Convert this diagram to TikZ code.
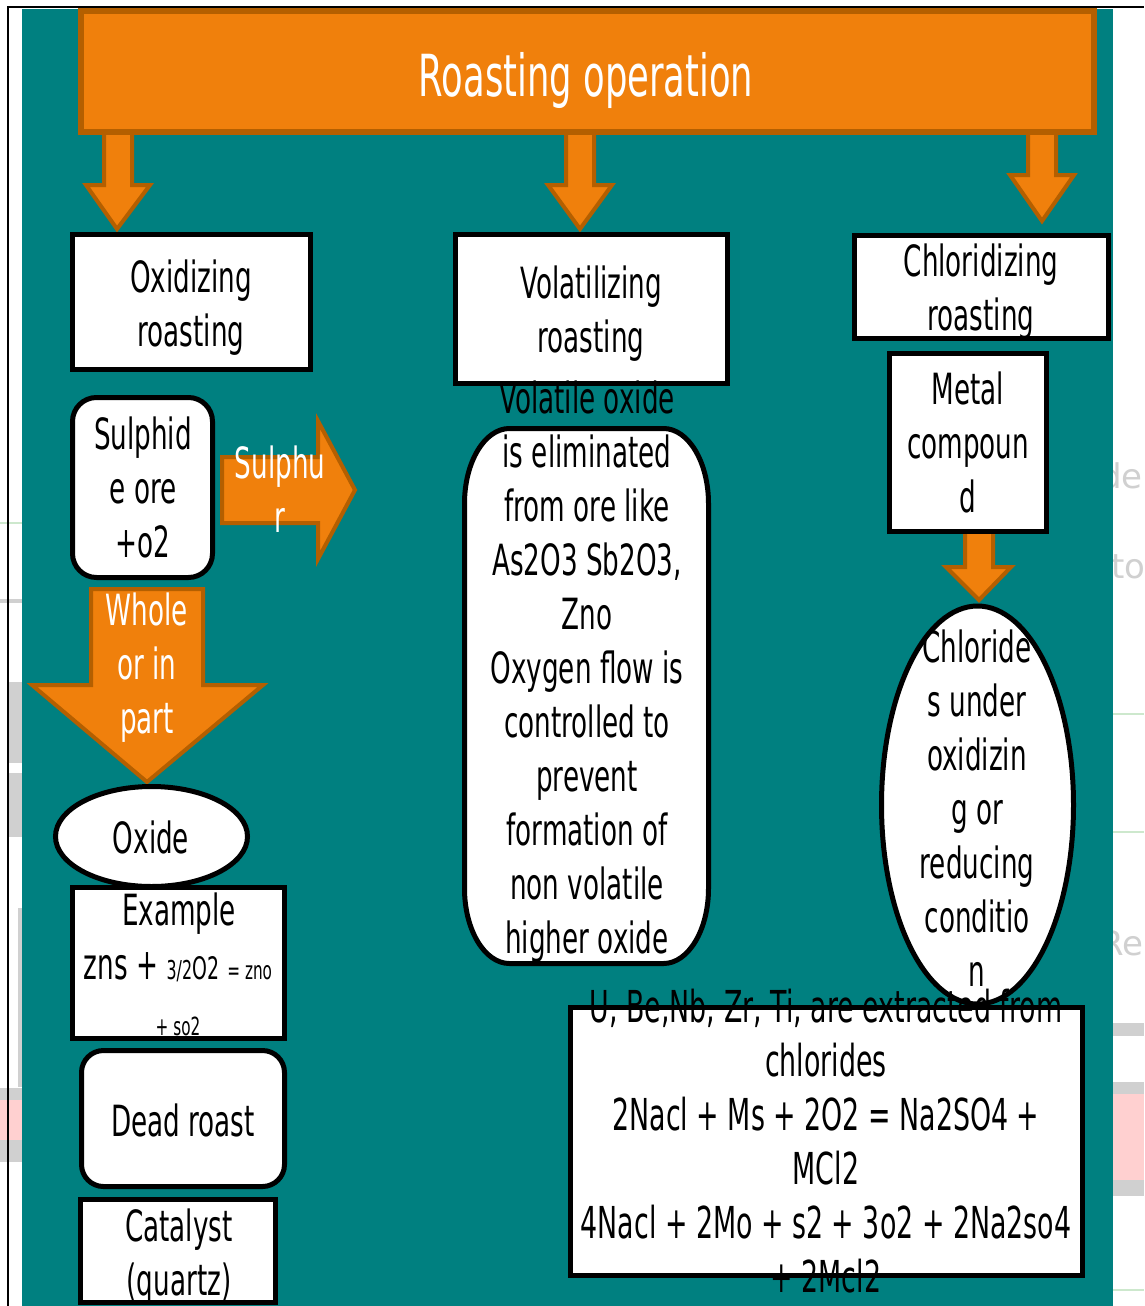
\documentclass[tikz,border=0pt]{standalone}
\usepackage{fontspec}
\setmainfont[FakeStretch=0.61]{DejaVu Sans}
\newfontfamily\plainfont{DejaVu Sans}
\usetikzlibrary{shapes.geometric}
\definecolor{tealbg}{RGB}{0,128,128}
\definecolor{org}{RGB}{240,128,12}
\definecolor{orgd}{RGB}{180,95,0}
\definecolor{artgray}{RGB}{208,208,208}
\definecolor{artpink}{RGB}{255,208,208}
\definecolor{artgreen}{RGB}{205,232,205}
\newcommand{\fsz}[1]{\fontsize{#1}{54}\selectfont}
% elliptic rounded rectangle: x1,y1,x2,y2,rx,ry
\def\erect#1#2#3#4#5#6{%
  ({#1+#5},#2) -- ({#3-#5},#2) arc[start angle=-90,end angle=0,x radius=#5,y radius=#6]
  -- (#3,{#4-#6}) arc[start angle=0,end angle=90,x radius=#5,y radius=#6]
  -- ({#1+#5},#4) arc[start angle=90,end angle=180,x radius=#5,y radius=#6]
  -- (#1,{#2+#6}) arc[start angle=180,end angle=270,x radius=#5,y radius=#6] -- cycle}
\begin{document}
\begin{tikzpicture}[x=1pt,y=-1pt,
  bd/.style={draw=black,line width=5pt},
  wbox/.style={rectangle,fill=white,inner sep=0pt,outer sep=0pt},
  blk/.style={fill=org,draw=orgd,line width=4pt,line join=miter},
  txt/.style={align=center,font=\fsz{43},inner sep=0pt,text=black},
  wtxt/.style={txt,text=white},
  ghost/.style={text=artgray,font=\plainfont\fontsize{34}{40}\selectfont,inner sep=0pt,anchor=base west},
]
\useasboundingbox (0,0) rectangle (1144,1306);
\fill[white] (0,0) rectangle (1144,1306);
% --- screen remnants at the sides ---
\fill[artgreen] (0,522) rectangle (22,524);
\fill[artgray] (0,599) rectangle (22,603);
\fill[artgray] (7,682) rectangle (22,763);
\fill[artgray] (7,773) rectangle (22,837);
\fill[artgray] (18,908) rectangle (22,1087);
\fill[artgray] (0,1088) rectangle (22,1100);
\fill[artpink] (0,1100) rectangle (22,1140);
\fill[artgray] (0,1140) rectangle (22,1162);
\node[ghost] (g1) at (1100,488) {de};
\node[ghost] (g2) at (1111,578) {to};
\node[ghost] (g3) at (1100,955) {Re};
\fill[artgreen] (1113,713) rectangle (1144,715);
\fill[artgreen] (1113,831) rectangle (1144,833);
\fill[artgray] (1113,1023) rectangle (1144,1036);
\fill[artgray] (1113,1082) rectangle (1144,1094);
\fill[artpink] (1113,1094) rectangle (1144,1180);
\fill[artgray] (1113,1180) rectangle (1144,1196);
\fill[artgreen] (1113,1289) rectangle (1144,1291);
% --- teal slide ---
\fill[tealbg] (22,9) rectangle (1113,1306);
\draw[black,line width=2pt] (8,1306) -- (8,7.5) -- (1144,7.5);

% --- block arrows ---
\draw[blk] (104,125) -- (104,185) -- (86,185) -- (117,229) -- (150,185) -- (132,185) -- (132,125) -- cycle;
\draw[blk] (566,125) -- (566,185) -- (548,185) -- (580,229) -- (612,185) -- (594,185) -- (594,125) -- cycle;
\draw[blk] (1028,125) -- (1028,175) -- (1010,175) -- (1042,221) -- (1074,175) -- (1056,175) -- (1056,125) -- cycle;
\draw[blk] (965,525) -- (965,567) -- (946,567) -- (979,600) -- (1011,567) -- (993,567) -- (993,525) -- cycle;
\draw[blk] (222,457) -- (318,457) -- (318,421) -- (355,490) -- (318,559) -- (318,523) -- (222,523) -- cycle;
\draw[blk] (91,589) -- (91,685) -- (32,685) -- (147,782) -- (263,685) -- (203,685) -- (203,589) -- cycle;

% --- title ---
\node[fill=org,draw=orgd,line width=6pt,minimum width=1013pt,minimum height=121pt,inner sep=0pt] (title) at (587,71.5) {};
\node[font=\fsz{58},text=white,inner sep=0pt] (titleT) at (586,80) {Roasting operation};

% --- box fills ---
\node[wbox,minimum width=238pt,minimum height=135pt] (ox) at (191.5,302) {};
\node[wbox,minimum width=272pt,minimum height=149pt] (vol) at (591.5,309) {};
\node[wbox,minimum width=254pt,minimum height=103pt] (chl) at (981.5,287) {};
\node[wbox,minimum width=157pt,minimum height=178pt] (met) at (968,442.5) {};
\node[wbox,minimum width=512pt,minimum height=268pt] (btm) at (826.5,1141.5) {};
\fill[white] \erect{464.5}{428.5}{708.5}{963.5}{45}{75};
\node[inner sep=0pt,minimum width=244pt,minimum height=535pt] (volx) at (586.5,696) {};
\node[wbox,rounded corners=24pt,minimum width=140pt,minimum height=180pt] (sul) at (142.5,487.5) {};
\node[wbox,minimum width=212pt,minimum height=151pt] (ex) at (178.5,963) {};
\node[wbox,rounded corners=22pt,minimum width=203pt,minimum height=136pt] (dead) at (183,1118.5) {};
\node[wbox,minimum width=195pt,minimum height=103pt] (cat) at (178,1251) {};
\node[ellipse,fill=white,inner sep=0pt,minimum width=192pt,minimum height=100pt] (oxe) at (151.5,836.5) {};
\node[ellipse,fill=white,inner sep=0pt,minimum width=192pt,minimum height=398pt] (chle) at (977.5,805) {};

% --- texts ---
\node[txt] (oxT) at (191,308) {Oxidizing\\roasting};
\node[txt] (volT) at (591,314) {Volatilizing\\roasting};
\node[txt] (chlT) at (981,292) {Chloridizing\\roasting};
\node[txt] (metT) at (968,442.5) {Metal\\compoun\\d};
\node[txt] (chleT) at (977,808) {Chloride\\s under\\oxidizin\\g or\\reducing\\conditio\\n};
\node[txt,font=\fsz{44}] (btmT) at (826,1141) {U, Be,Nb, Zr, Ti, are extracted from\\chlorides\\2Nacl + Ms + 2O2 = Na2SO4 +\\MCl2\\4Nacl + 2Mo + s2 + 3o2 + 2Na2so4\\+ 2Mcl2};
\node[txt] (volxT) at (587,671.5) {Volatile oxide\\is eliminated\\from ore like\\As2O3 Sb2O3,\\Zno\\Oxygen flow is\\controlled to\\prevent\\formation of\\non volatile\\higher oxide};
\node[txt] (sulT) at (143,487.5) {Sulphid\\e ore\\+o2};
\node[wtxt] (sulfT) at (280,489.5) {Sulphu\\r};
\node[wtxt] (wholeT) at (147,668) {Whole\\or in\\part};
\node[txt,anchor=base] (oxeT) at (151,853) {Oxide};
\node[txt,anchor=base] (exT1) at (179,925) {Example};
\node[txt,anchor=base] (exT2) at (178,979) {zns + {\fsz{26}3/2}{\fsz{31}O2} {\fsz{25}= zno}};
\node[txt,anchor=base,font=\fsz{25}] (exT3) at (178,1035) {+ so2};
\node[txt,anchor=base] (deadT) at (183,1136) {Dead roast};
\node[txt] (catT) at (179,1257) {Catalyst\\(quartz)};

% --- borders on top ---
\draw[bd] (ox.north west) rectangle (ox.south east);
\draw[bd] (vol.north west) rectangle (vol.south east);
\draw[bd] (chl.north west) rectangle (chl.south east);
\draw[bd] (met.north west) rectangle (met.south east);
\draw[bd] (btm.north west) rectangle (btm.south east);
\draw[bd] \erect{464.5}{428.5}{708.5}{963.5}{45}{75};
\draw[bd,rounded corners=24pt] (sul.north west) rectangle (sul.south east);
\draw[bd] (ex.north west) rectangle (ex.south east);
\draw[bd,rounded corners=22pt] (dead.north west) rectangle (dead.south east);
\draw[bd] (cat.north west) rectangle (cat.south east);
\draw[bd] (oxe.center) ellipse [x radius=96, y radius=50];
\draw[bd] (chle.center) ellipse [x radius=96, y radius=199];
\end{tikzpicture}
\end{document}
